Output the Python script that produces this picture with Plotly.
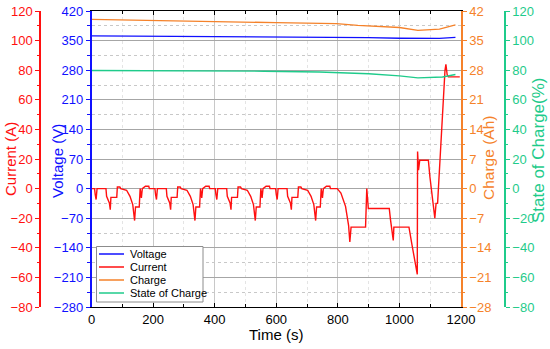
import plotly.graph_objects as go

# ---------------- data ----------------
time_current = [0, 6, 10, 12, 15, 18, 47, 49, 58, 61, 63, 82, 84, 92, 95, 114, 125, 134, 140, 143, 155, 158, 162, 165, 175, 186, 188,
                202, 206, 208, 211, 214, 243, 245, 254, 257, 259, 278, 280, 288, 291, 310, 321, 330, 336, 339, 351, 354, 358, 361, 371, 382, 384,
                398, 402, 404, 407, 410, 439, 441, 450, 453, 455, 474, 476, 484, 487, 506, 517, 526, 532, 535, 547, 550, 554, 557, 567, 578, 580,
                594, 598, 600, 603, 606, 635, 637, 646, 649, 651, 670, 672, 680, 683, 702, 713, 722, 728, 731, 743, 746, 750, 753, 763, 774, 776,
                798, 810, 825, 835, 839, 843, 890, 894, 899, 967, 971, 980, 982, 1031, 1040, 1050, 1058, 1059, 1062, 1066, 1094, 1099, 1115,
                1119, 1124, 1148, 1151, 1155, 1159, 1196]
current = [0, 0, 0, -4, -7.4, 0, 0, -5.2, -9.7, -14.2, -5.9, -5.9, 1.1, 1.1, 0, -1.1, -5.2, -10.8, -21.6, -12.4, -12.4, 0, -6.3, 0, 1.6, 1.6, 0,
           0, 0, -4, -7.4, 0, 0, -5.2, -9.7, -14.2, -5.9, -5.9, 1.1, 1.1, 0, -1.1, -5.2, -10.8, -21.6, -12.4, -12.4, 0, -6.3, 0, 1.6, 1.6, 0,
           0, 0, -4, -7.4, 0, 0, -5.2, -9.7, -14.2, -5.9, -5.9, 1.1, 1.1, 0, -1.1, -5.2, -10.8, -21.6, -12.4, -12.4, 0, -6.3, 0, 1.6, 1.6, 0,
           0, 0, -4, -7.4, 0, 0, -5.2, -9.7, -14.2, -5.9, -5.9, 1.1, 1.1, 0, -1.1, -5.2, -10.8, -21.6, -12.4, -12.4, 0, -6.3, 0, 1.6, 1.6, 0,
           0, -3, -12, -25, -36, -26, -26, 0, -13.4, -13.4, -21, -35, -26, -26, -37, -48, -58, 25, 12.5, 19.2, 19.2, 8, -20,
           -10, -10, 80, 84, 77, 75.5, 75.5]

time_voltage = [0, 200, 400, 600, 800, 900, 1000, 1060, 1130, 1182]
voltage = [361, 360.5, 360, 359.5, 358.6, 357, 355.5, 355, 355.3, 357.5]

time_charge = [0, 200, 400, 600, 795, 865, 1000, 1060, 1130, 1182]
charge = [40.0, 39.8, 39.6, 39.25, 39.0, 38.6, 38.1, 37.4, 37.7, 38.7]

time_soc = [0, 380, 560, 740, 800, 900, 1000, 1060, 1140, 1182]
soc = [79.8, 79.8, 79.3, 78.8, 78.4, 77.6, 76.2, 74.8, 75.4, 77.1]

series_names = ["Voltage", "Current", "Charge", "State of Charge"]

# ---------------- style ----------------
W, H = 550, 349
BLUE = "#1010FF"
RED = "#FF1010"
ORANGE = "#F5822A"
TEAL = "#1FCB8B"
COLORS = [BLUE, RED, ORANGE, TEAL]
FONT = "Arial, Liberation Sans, sans-serif"
x0_px, x1_px = 91.5, 461
top_px, bot_px = 11, 307


def px(x):
    return x / W


def py(y):
    return (bot_px - y) / (bot_px - top_px)


fig = go.Figure()
fig.add_trace(go.Scatter(x=time_voltage, y=voltage, name=series_names[0], mode="lines",
                         line=dict(color=BLUE, width=1.3), yaxis="y"))
fig.add_trace(go.Scatter(x=time_current, y=current, name=series_names[1], mode="lines",
                         line=dict(color=RED, width=1.4), yaxis="y2"))
fig.add_trace(go.Scatter(x=time_charge, y=charge, name=series_names[2], mode="lines",
                         line=dict(color=ORANGE, width=1.3), yaxis="y3"))
fig.add_trace(go.Scatter(x=time_soc, y=soc, name=series_names[3], mode="lines",
                         line=dict(color=TEAL, width=1.3), yaxis="y4"))


def yax(color, rng, dtick, **kw):
    d = dict(range=rng, dtick=dtick, tick0=rng[0], color=color, linecolor=color, linewidth=1.5,
             showline=True, ticks="outside", ticklen=4, tickwidth=1.2, tickcolor=color,
             tickfont=dict(family=FONT, size=13, color=color), zeroline=False, showgrid=False,
             automargin=False,
             minor=dict(ticks="outside", ticklen=2.5, tickcolor=color, dtick=dtick / 2, tick0=rng[0]))
    d.update(kw)
    return d


# custom compact legend (box, sample lines, labels)
leg_left, leg_right, leg_top, leg_bot = 96.5, 203, 246.5, 302
leg_rows = [254, 267, 280, 293]
shapes = [dict(type="rect", xref="paper", yref="paper",
               x0=px(leg_left), x1=px(leg_right), y0=py(leg_bot), y1=py(leg_top),
               line=dict(color="#8C8C8C", width=1), fillcolor="white", layer="above")]
annotations = []
for name, col, ry in zip(series_names, COLORS, leg_rows):
    shapes.append(dict(type="line", xref="paper", yref="paper",
                       x0=px(99), x1=px(124), y0=py(ry), y1=py(ry),
                       line=dict(color=col, width=1.5), layer="above"))
    annotations.append(dict(text=name, x=px(128), y=py(ry), xref="paper", yref="paper",
                            xanchor="left", yanchor="middle", showarrow=False,
                            font=dict(family=FONT, size=11, color="black")))


def title(text, x, y, color, size, angle=-90):
    return dict(text=text, x=px(x), y=py(y), xref="paper", yref="paper", textangle=angle,
                xanchor="center", yanchor="middle", showarrow=False,
                font=dict(family=FONT, size=size, color=color))


annotations += [
    title("Current (A)", 10, 159, RED, 15),
    title("Voltage (V)", 57, 161, BLUE, 15),
    title("Charge (Ah)", 488, 158, ORANGE, 15.5),
    title("State of Charge(%)", 538, 150, TEAL, 17),
    title("Time (s)", 276, 334, "black", 15, angle=0),
]

fig.update_layout(
    template="none",
    width=W, height=H,
    margin=dict(l=0, r=0, t=top_px, b=H - bot_px, pad=0),
    paper_bgcolor="white", plot_bgcolor="white",
    font=dict(family=FONT, size=13),
    xaxis=dict(domain=[px(x0_px), px(x1_px)], range=[0, 1200], dtick=200, tick0=0,
               showline=True, linecolor="black", linewidth=1.2, mirror="ticks",
               ticks="inside", ticklen=4, tickcolor="black", automargin=False,
               tickfont=dict(family=FONT, size=13, color="black"),
               showgrid=True, gridcolor="#C8C8C8", gridwidth=1, zeroline=False,
               minor=dict(ticks="inside", ticklen=2.5, tickcolor="black", dtick=100, tick0=0,
                          showgrid=True, gridcolor="#E4E4E4", griddash="dot")),
    yaxis=yax(BLUE, [-280, 420], 70, side="left", anchor="x",
              showgrid=True, gridcolor="#A6A6A6", gridwidth=1,
              minor=dict(ticks="outside", ticklen=2.5, tickcolor=BLUE, dtick=35, tick0=-280,
                         showgrid=True, gridcolor="#C8C8C8", griddash="dot")),
    yaxis2=yax(RED, [-80, 120], 20, overlaying="y", side="left", anchor="free", position=px(40)),
    yaxis3=yax(ORANGE, [-28, 42], 7, overlaying="y", side="right", anchor="x"),
    yaxis4=yax(TEAL, [-80, 120], 20, overlaying="y", side="right", anchor="free", position=px(505)),
    showlegend=False,
    shapes=shapes,
    annotations=annotations,
)

fig.write_html("out.html", config={"displayModeBar": False},
               post_script="document.body.style.margin='0px';")
